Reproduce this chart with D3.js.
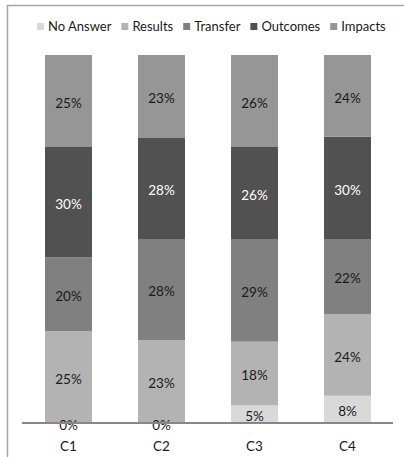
<!DOCTYPE html>
<html>
<head>
<meta charset="utf-8">
<script src="https://cdn.jsdelivr.net/npm/d3@7"></script>
<style>
  body { margin: 0; background: #fff; }
  svg { display: block; font-family: Lato, "Open Sans", sans-serif; }
</style>
</head>
<body>
<div id="chart"></div>
<script>
// categories and series (labelled percentages, bars are shown as 100% stacks)
const categories = ["C1", "C2", "C3", "C4"];
const seriesNames = ["No Answer", "Results", "Transfer", "Outcomes", "Impacts"];
const noAnswer = [0, 0, 5, 8];
const results = [25, 23, 18, 24];
const transfer = [20, 28, 29, 22];
const outcomes = [30, 28, 26, 30];
const impacts = [25, 23, 26, 24];
const colors = ["#d9d9d9", "#b3b3b3", "#808080", "#505150", "#969696"];

const width = 404, height = 457;
const margin = { top: 55, bottom: 34, left: 22, right: 10 };

const rows = categories.map((c, i) => ({
    cat: c,
    "No Answer": noAnswer[i],
    "Results": results[i],
    "Transfer": transfer[i],
    "Outcomes": outcomes[i],
    "Impacts": impacts[i]
}));

const stack = d3.stack().keys(seriesNames).offset(d3.stackOffsetExpand);
const layers = stack(rows);

const svg = d3.select("#chart").append("svg")
    .attr("width", width)
    .attr("height", height);

// chart frame (only top and left edges show in the crop)
svg.append("line").attr("x1", 7).attr("x2", width).attr("y1", 5.5).attr("y2", 5.5)
    .attr("stroke", "#a6a6a6").attr("stroke-width", 1.5);
svg.append("line").attr("x1", 7.5).attr("x2", 7.5).attr("y1", 5).attr("y2", height)
    .attr("stroke", "#a6a6a6").attr("stroke-width", 1.5);

var x = d3.scaleBand()
    .domain(categories)
    .range([margin.left, 394])
    .paddingInner(0.495)
    .paddingOuter(0.2475);

var y = d3.scaleLinear()
    .domain([0, 1])
    .range([height - margin.bottom, margin.top]);

// bars
const groups = svg.selectAll("g.layer")
    .data(layers)
    .enter()
    .append("g")
    .attr("class", "layer")
    .attr("fill", (d, i) => colors[i]);

groups.selectAll("rect")
    .data(d => d)
    .enter()
    .append("rect")
    .attr("x", d => x(d.data.cat))
    .attr("y", d => y(d[1]))
    .attr("width", x.bandwidth())
    .attr("height", d => y(d[0]) - y(d[1]));

// value labels
layers.forEach((layer, li) => {
    svg.append("g")
        .selectAll("text")
        .data(layer)
        .enter()
        .append("text")
        .attr("x", d => x(d.data.cat) + x.bandwidth() / 2)
        .attr("y", d => (y(d[0]) + y(d[1])) / 2)
        .attr("dy", "0.5em")
        .attr("text-anchor", "middle")
        .style("font-size", "13.5px")
        .attr("fill", li === 3 ? "#ffffff" : "#1a1a1a")
        .text(d => d.data[layer.key] + "%");
});

// x axis
const xAxis = svg.append("g")
    .attr("transform", "translate(0," + (height - margin.bottom) + ")")
    .call(d3.axisBottom(x).tickSize(0).tickPadding(18));
xAxis.select(".domain")
    .attr("d", "M" + margin.left + ",0H393")
    .attr("stroke", "#878787")
    .attr("stroke-width", 2);
xAxis.selectAll("text")
    .style("font-size", "13.5px")
    .style("font-family", "Lato, 'Open Sans', sans-serif")
    .attr("fill", "#1a1a1a");

// legend
const legend = svg.append("g").attr("transform", "translate(37,0)");
let lx = 0;
seriesNames.forEach((name, i) => {
    legend.append("rect")
        .attr("x", lx).attr("y", 23)
        .attr("width", 7).attr("height", 7)
        .attr("fill", colors[i]);
    const t = legend.append("text")
        .attr("x", lx + 11).attr("y", 31)
        .style("font-size", "13px")
        .attr("fill", "#1a1a1a")
        .text(name);
    lx += 11 + t.node().getComputedTextLength() + 10;
});
</script>
</body>
</html>
